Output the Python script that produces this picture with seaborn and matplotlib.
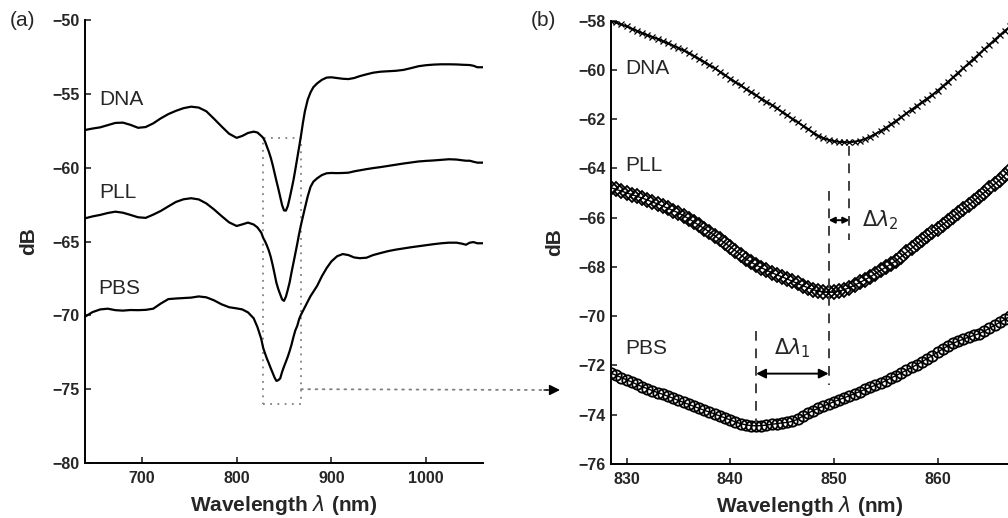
import numpy as np
import matplotlib
matplotlib.use("Agg")
import matplotlib.pyplot as plt
from matplotlib.patches import Rectangle, ConnectionPatch
import seaborn as sns

# ---------------- data: (a) full transmission spectra ----------------
wl_a = [640, 648, 656, 664, 672, 680, 688, 696, 704, 712, 720, 728, 736, 744, 752, 760, 768, 776, 784, 792, 800,
        806, 812, 818, 822, 826,
        828, 830, 832, 834, 836, 838, 840, 842, 844, 846, 848, 850, 852, 854, 856, 858, 860, 862, 864, 866, 868,
        870, 872, 875, 878, 881, 885, 890, 895, 900,
        906, 912, 918, 924, 930, 937, 944, 952, 960, 968, 976, 984, 992, 1000, 1008, 1016, 1024, 1032, 1038, 1042,
        1046, 1050, 1054, 1060]

dna_a = [-57.45, -57.35, -57.27, -57.12, -56.97, -56.95, -57.10, -57.30, -57.25, -57.00, -56.66, -56.37, -56.15,
         -55.97, -55.87, -55.93, -56.18, -56.68, -57.20, -57.70, -57.98,
         -57.85, -57.65, -57.56, -57.62, -57.85,
         -57.98, -58.23, -58.58, -58.92, -59.32, -59.80, -60.35, -60.90, -61.42, -61.98, -62.54, -62.89, -62.91,
         -62.60, -62.06, -61.46, -60.84, -60.11, -59.35, -58.59, -57.80,
         -56.95, -56.20, -55.40, -54.90, -54.55, -54.29, -54.05, -53.90, -53.88,
         -53.93, -53.98, -54.00, -53.93, -53.80, -53.68, -53.57, -53.50, -53.47, -53.44, -53.38, -53.26, -53.13,
         -53.06, -53.02, -53.00, -53.00, -53.01, -53.03, -53.04, -53.05, -53.10, -53.20, -53.20]

pll_a = [-63.43, -63.30, -63.20, -63.07, -62.98, -63.05, -63.20, -63.36, -63.40, -63.18, -62.93, -62.62, -62.32,
         -62.14, -62.07, -62.15, -62.42, -62.82, -63.27, -63.70, -63.95,
         -63.84, -63.72, -63.85, -64.05, -64.40,
         -64.75, -64.99, -65.28, -65.62, -66.04, -66.58, -67.18, -67.80, -68.23, -68.58, -68.92, -69.02, -68.74,
         -68.27, -67.75, -67.07, -66.44, -65.80, -65.15, -64.47, -63.85,
         -63.30, -62.75, -61.95, -61.30, -60.95, -60.72, -60.50, -60.38, -60.36,
         -60.37, -60.36, -60.34, -60.25, -60.18, -60.10, -60.03, -59.96, -59.88, -59.80, -59.72, -59.65, -59.58,
         -59.54, -59.51, -59.47, -59.43, -59.45, -59.50, -59.53, -59.53, -59.60, -59.66, -59.66]

pbs_a = [-70.09, -69.78, -69.60, -69.55, -69.65, -69.68, -69.64, -69.65, -69.63, -69.55, -69.20, -68.90, -68.86,
         -68.83, -68.80, -68.72, -68.78, -68.98, -69.25, -69.45, -69.53,
         -69.60, -69.80, -70.20, -70.80, -71.60,
         -72.20, -72.58, -72.94, -73.25, -73.58, -73.89, -74.21, -74.44, -74.39, -74.27, -73.83, -73.47, -73.14,
         -72.80, -72.41, -71.97, -71.46, -71.01, -70.71, -70.25, -69.95,
         -69.70, -69.45, -69.07, -68.70, -68.40, -68.00, -67.35, -66.80, -66.35,
         -66.00, -65.85, -65.92, -66.08, -66.13, -66.10, -65.92, -65.78, -65.65, -65.55, -65.47, -65.39, -65.32,
         -65.25, -65.18, -65.12, -65.08, -65.08, -65.15, -65.22, -65.08, -65.04, -65.12, -65.12]

# ---------------- data: (b) zoom on the resonance dip (0.5 nm sampling) ----------------
wl_b = np.arange(828.5, 867.01, 0.5)

dna_b = [-58.00, -58.07, -58.15, -58.23, -58.32, -58.41, -58.50, -58.58, -58.66, -58.74, -58.83, -58.92, -59.01,
         -59.10, -59.21, -59.32, -59.43, -59.55, -59.67, -59.80, -59.93, -60.07, -60.21, -60.35, -60.49, -60.63,
         -60.77, -60.90, -61.03, -61.16, -61.29, -61.42, -61.56, -61.70, -61.84, -61.98, -62.12, -62.26, -62.40,
         -62.54, -62.67, -62.77, -62.84, -62.89, -62.92, -62.93, -62.94, -62.91, -62.87, -62.80, -62.71, -62.60,
         -62.48, -62.35, -62.21, -62.06, -61.91, -61.76, -61.61, -61.46, -61.31, -61.16, -61.01, -60.84, -60.66,
         -60.48, -60.30, -60.11, -59.92, -59.73, -59.54, -59.35, -59.16, -58.97, -58.78, -58.59, -58.41, -58.23]

pll_b = [-64.78, -64.85, -64.92, -64.99, -65.06, -65.13, -65.20, -65.28, -65.36, -65.44, -65.53, -65.62, -65.71,
         -65.80, -65.92, -66.04, -66.17, -66.31, -66.44, -66.58, -66.73, -66.88, -67.03, -67.18, -67.34, -67.50,
         -67.67, -67.80, -67.92, -68.03, -68.13, -68.23, -68.32, -68.40, -68.49, -68.58, -68.67, -68.76, -68.84,
         -68.92, -68.98, -69.02, -69.03, -69.02, -68.98, -68.92, -68.84, -68.74, -68.63, -68.52, -68.40, -68.27,
         -68.14, -68.01, -67.88, -67.75, -67.58, -67.41, -67.24, -67.07, -66.91, -66.75, -66.60, -66.44, -66.28,
         -66.12, -65.96, -65.80, -65.64, -65.48, -65.32, -65.15, -64.98, -64.81, -64.64, -64.47, -64.26, -64.05]

pbs_b = [-72.31, -72.40, -72.49, -72.58, -72.67, -72.77, -72.86, -72.94, -73.02, -73.10, -73.17, -73.25, -73.33,
         -73.42, -73.50, -73.58, -73.66, -73.74, -73.82, -73.89, -73.97, -74.05, -74.13, -74.21, -74.29, -74.36,
         -74.41, -74.44, -74.45, -74.44, -74.42, -74.39, -74.36, -74.33, -74.31, -74.27, -74.18, -74.06, -73.94,
         -73.83, -73.74, -73.65, -73.56, -73.47, -73.39, -73.31, -73.23, -73.14, -73.06, -72.97, -72.89, -72.80,
         -72.72, -72.62, -72.51, -72.41, -72.30, -72.19, -72.08, -71.97, -71.85, -71.72, -71.60, -71.46, -71.33,
         -71.20, -71.10, -71.01, -70.93, -70.85, -70.78, -70.71, -70.61, -70.49, -70.37, -70.25, -70.13, -70.00]

series_names = ["DNA", "PLL", "PBS"]
xticks_a = [700, 800, 900, 1000]
yticks_a = [-80, -75, -70, -65, -60, -55, -50]
xticks_b = [830, 840, 850, 860]
yticks_b = [-76, -74, -72, -70, -68, -66, -64, -62, -60, -58]

# ---------------- style ----------------
sns.set_style("ticks", rc={"xtick.direction": "in", "ytick.direction": "in"})
plt.rcParams["font.family"] = ["Liberation Sans", "DejaVu Sans"]
plt.rcParams["mathtext.fontset"] = "dejavusans"
plt.rcParams["axes.linewidth"] = 1.4
plt.rcParams["axes.edgecolor"] = "black"

W, H = 1008, 518
fig = plt.figure(figsize=(W / 100, H / 100), dpi=100)
ax_a = fig.add_axes([85 / W, 1 - 463 / H, (483 - 85) / W, (463 - 20) / H])
ax_b = fig.add_axes([611 / W, 1 - 464 / H, (W - 611) / W, (464 - 20.7) / H])

# ---------------- panel (a) ----------------
for ys in (dna_a, pll_a, pbs_a):
    sns.lineplot(x=wl_a, y=ys, ax=ax_a, color="black", lw=1.6, estimator=None)

ax_a.set_xlim(640, 1060)
ax_a.set_ylim(-80, -50)
ax_a.set_xticks(xticks_a)
ax_a.set_yticks(yticks_a)

label_pos_a = [(655, -55.4), (655, -61.65), (654, -68.2)]
for name, (x, y) in zip(series_names, label_pos_a):
    ax_a.text(x, y, name, fontsize=15, ha="left", va="center")

# zoom window drawn on the full spectrum
ax_a.add_patch(Rectangle((wl_b[0] - 0.5, -76), 40, 18, fill=False, ls=(0, (1, 3)),
                         lw=1.3, ec="0.5"))

# ---------------- panel (b) ----------------
sns.lineplot(x=wl_b, y=dna_b, ax=ax_b, color="black", lw=1.4, marker="x", ms=4.5, mew=0.9,
             mec="black", estimator=None)
sns.lineplot(x=wl_b, y=pll_b, ax=ax_b, color="black", lw=1.0, marker="D", ms=7.5, mew=1.3,
             mfc="none", mec="black", estimator=None)
sns.lineplot(x=wl_b, y=pbs_b, ax=ax_b, color="black", lw=1.0, marker="o", ms=7.5, mew=1.3,
             mfc="none", mec="black", estimator=None)

ax_b.set_xlim(828.5, 866.8)
ax_b.set_ylim(-76, -58)
ax_b.set_xticks(xticks_b)
ax_b.set_yticks(yticks_b)

label_pos_b = [(829.9, -59.94), (829.9, -63.87), (829.9, -71.3)]
for name, (x, y) in zip(series_names, label_pos_b):
    ax_b.text(x, y, name, fontsize=15, ha="left", va="center")

# resonance minima and their shifts
wl_b_arr = np.asarray(wl_b)
min_dna = wl_b_arr[np.argmin(dna_b)]
min_pll = wl_b_arr[np.argmin(pll_b)]
min_pbs = wl_b_arr[np.argmin(pbs_b)]
dash = dict(color="0.25", lw=1.4, ls=(0, (5, 4)))
ax_b.plot([min_dna, min_dna], [-63.1, -66.9], **dash)
ax_b.plot([min_pll, min_pll], [-64.9, -72.8], **dash)
ax_b.plot([min_pbs, min_pbs], [-70.6, -74.35], **dash)

ax_b.annotate("", xy=(min_pbs, -72.33), xytext=(min_pll, -72.33),
              arrowprops=dict(arrowstyle="<|-|>", color="black", lw=1.4, mutation_scale=14,
                              shrinkA=0, shrinkB=0))
ax_b.text((min_pbs + min_pll) / 2, -71.3, r"$\Delta\lambda_1$", fontsize=15, ha="center", va="center")
ax_b.annotate("", xy=(min_pll, -66.1), xytext=(min_dna, -66.1),
              arrowprops=dict(arrowstyle="<|-|>", color="black", lw=1.4, mutation_scale=9,
                              shrinkA=0, shrinkB=0))
ax_b.text(min_dna + 1.2, -66.1, r"$\Delta\lambda_2$", fontsize=15, ha="left", va="center")

# ---------------- shared axis formatting ----------------
for ax in (ax_a, ax_b):
    sns.despine(ax=ax)
    ax.tick_params(axis="both", length=4, width=1.2, labelsize=11.5, pad=6)
    ax.tick_params(axis="y", pad=4)
    for lab in ax.get_xticklabels() + ax.get_yticklabels():
        lab.set_fontweight("bold")
    ax.set_xlabel(r"Wavelength $\lambda$ (nm)", fontsize=15, fontweight="bold", labelpad=5)
    ax.set_ylabel("dB", fontsize=15, fontweight="bold", labelpad=10)

fig.text(10 / W, 1 - 20 / H, "(a)", fontsize=15, ha="left", va="center")
fig.text(531 / W, 1 - 20 / H, "(b)", fontsize=15, ha="left", va="center")

# dotted pointer from the zoom window to panel (b)
tip = (560 / W, 1 - 390 / H)
line_end = (547 / W, 1 - 390 / H)
con = ConnectionPatch(xyA=(868, -75), coordsA=ax_a.transData, xyB=line_end, coordsB=fig.transFigure,
                      ls=(0, (1, 3)), lw=1.3, color="0.5")
fig.add_artist(con)
fig.add_artist(ConnectionPatch(xyA=(544 / W, tip[1]), coordsA=fig.transFigure, xyB=tip,
                               coordsB=fig.transFigure, arrowstyle="-|>", mutation_scale=16,
                               lw=1.0, color="black", shrinkA=0, shrinkB=0))

fig.savefig("out.png", dpi=100)
